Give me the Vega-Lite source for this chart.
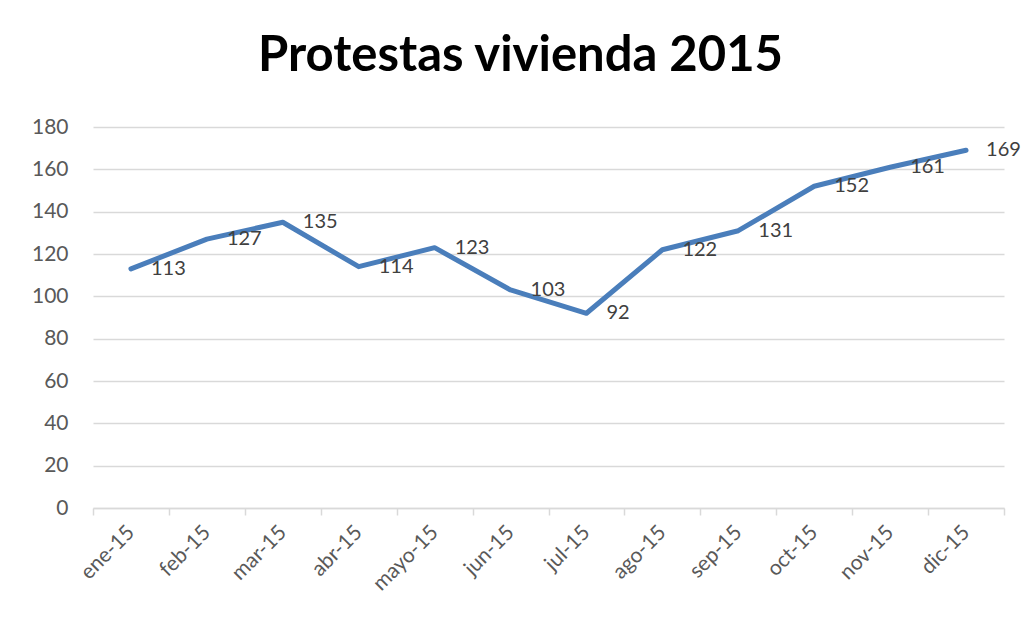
{
  "$schema": "https://vega.github.io/schema/vega-lite/v6.json",
  "width": 911,
  "height": 381,
  "autosize": {"type": "none"},
  "padding": {"left": 93, "top": 127, "right": 19, "bottom": 114},
  "background": "white",
  "title": {
    "text": "Protestas vivienda 2015",
    "font": "Lato",
    "fontSize": 49,
    "fontWeight": "bold",
    "color": "#000000",
    "anchor": "middle",
    "baseline": "alphabetic",
    "offset": 49,
    "dx": -28,
    "dy": 53
  },
  "data": {
    "values": [
      {"mes": "ene-15", "valor": 113},
      {"mes": "feb-15", "valor": 127},
      {"mes": "mar-15", "valor": 135},
      {"mes": "abr-15", "valor": 114},
      {"mes": "mayo-15", "valor": 123},
      {"mes": "jun-15", "valor": 103},
      {"mes": "jul-15", "valor": 92},
      {"mes": "ago-15", "valor": 122},
      {"mes": "sep-15", "valor": 131},
      {"mes": "oct-15", "valor": 152},
      {"mes": "nov-15", "valor": 161},
      {"mes": "dic-15", "valor": 169}
    ]
  },
  "encoding": {
    "x": {
      "field": "mes",
      "type": "ordinal",
      "sort": null,
      "scale": {"type": "band", "paddingInner": 0, "paddingOuter": 0},
      "axis": {
        "title": null,
        "labelAngle": -45,
        "labelAlign": "right",
        "labelBaseline": "middle",
        "labelPadding": 14,
        "labelFont": "Lato",
        "labelFontSize": 21,
        "labelColor": "#595959",
        "domainColor": "#d9d9d9",
        "domainWidth": 1.5,
        "tickColor": "#d9d9d9",
        "tickWidth": 1.5,
        "tickSize": 7,
        "tickBand": "extent",
        "grid": false
      }
    },
    "y": {
      "field": "valor",
      "type": "quantitative",
      "scale": {"domain": [0, 180], "nice": false},
      "axis": {
        "title": null,
        "values": [0, 20, 40, 60, 80, 100, 120, 140, 160, 180],
        "domain": false,
        "ticks": false,
        "labelPadding": 25,
        "labelFont": "Lato",
        "labelFontSize": 21,
        "labelColor": "#595959",
        "gridColor": "#d9d9d9",
        "gridWidth": 1.5
      }
    }
  },
  "layer": [
    {
      "mark": {"type": "line", "color": "#4a7ebb", "strokeWidth": 5, "strokeCap": "round", "strokeJoin": "round"}
    },
    {
      "mark": {"type": "text", "align": "left", "baseline": "middle", "dx": 20, "font": "Lato", "fontSize": 20, "color": "#404040"},
      "encoding": {"text": {"field": "valor", "type": "quantitative"}}
    }
  ],
  "config": {"view": {"stroke": null}}
}
